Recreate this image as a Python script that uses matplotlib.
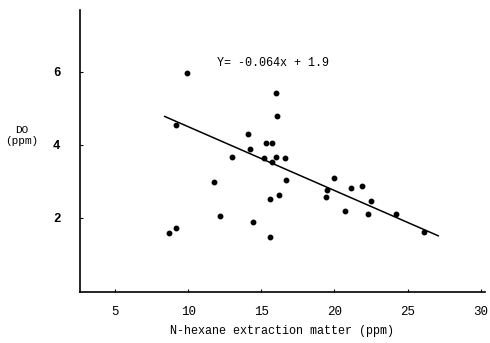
import numpy as np
import matplotlib
matplotlib.use("Agg")
import matplotlib.pyplot as plt

plt.rcParams['font.family'] = ['Liberation Mono', 'DejaVu Sans Mono']

# N-hexane extraction matter (ppm) vs DO (ppm)
hexane = [9.9, 16.0, 16.1, 9.15, 14.1, 15.3, 15.7, 14.2, 13.0, 15.2, 16.0, 16.6,
          15.7, 16.7, 11.8, 20.0, 19.5, 19.4, 21.1, 21.9, 22.5, 20.75, 22.3, 24.2,
          26.1, 15.6, 16.2, 12.2, 14.45, 15.6, 8.7, 9.2]
do_ppm = [5.98, 5.43, 4.79, 4.54, 4.29, 4.04, 4.04, 3.90, 3.67, 3.65, 3.67, 3.65,
          3.52, 3.05, 2.97, 3.10, 2.77, 2.57, 2.83, 2.88, 2.45, 2.20, 2.11, 2.10,
          1.60, 2.53, 2.62, 2.05, 1.89, 1.48, 1.58, 1.71]

# regression line as drawn (slope / intercept)
fit_slope = -0.175
fit_intercept = 6.25
fit_range = [8.4, 27.1]
eq_text = "Y= -0.064x + 1.9"

xticks = [5, 10, 15, 20, 25, 30]
yticks = [2, 4, 6]

fig = plt.figure(figsize=(4.9, 3.43), dpi=100)
ax = fig.add_axes([0.163, 0.149, 0.827, 0.822])

ax.plot(hexane, do_ppm, 'o', color='black', markersize=3.2)
fx = np.array(fit_range)
ax.plot(fx, fit_slope * fx + fit_intercept, color='black', linewidth=1.1)

ax.text(12.0, 6.15, eq_text, fontsize=8.5)

ax.set_xlim(2.6, 30.3)
ax.set_ylim(-0.03, 7.7)
ax.set_xticks(xticks)
ax.set_yticks(yticks)
ax.tick_params(direction='in', length=2, labelsize=9, pad=14)
ax.tick_params(axis='x', pad=10)
for lbl in ax.get_yticklabels():
    lbl.set_fontweight('bold')
ax.spines['top'].set_visible(False)
ax.spines['right'].set_visible(False)
ax.spines['left'].set_linewidth(1.2)
ax.spines['bottom'].set_linewidth(1.2)

ax.set_xlabel("N-hexane extraction matter (ppm)", fontsize=8.5, labelpad=5)
fig.text(0.045, 0.605, "DO\n(ppm)", fontsize=8, ha='center', va='center')

fig.savefig("out.png", dpi=100)
